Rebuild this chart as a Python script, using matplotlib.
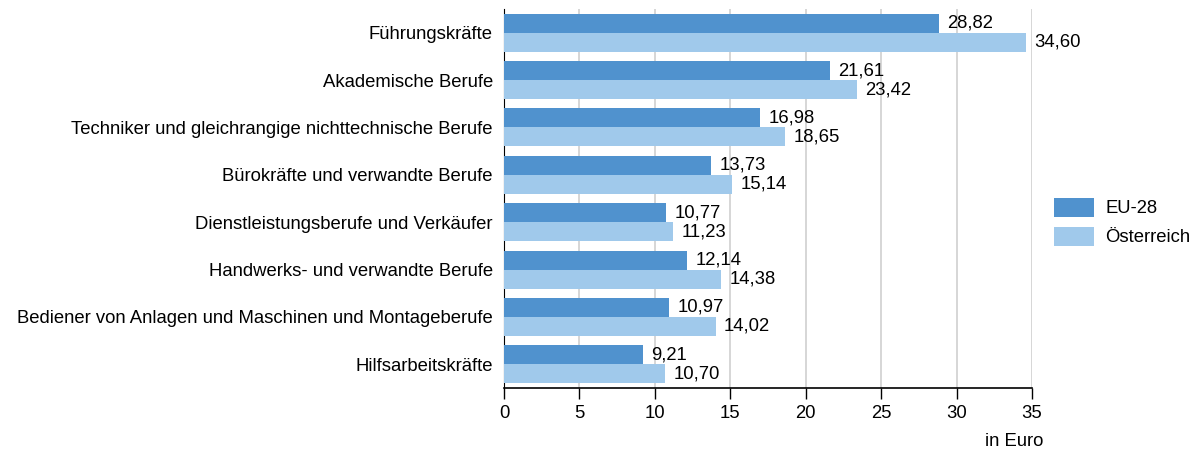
import matplotlib
matplotlib.use("Agg")
import matplotlib.pyplot as plt
import numpy as np

categories = [
    "Führungskräfte",
    "Akademische Berufe",
    "Techniker und gleichrangige nichttechnische Berufe",
    "Bürokräfte und verwandte Berufe",
    "Dienstleistungsberufe und Verkäufer",
    "Handwerks- und verwandte Berufe",
    "Bediener von Anlagen und Maschinen und Montageberufe",
    "Hilfsarbeitskräfte",
]
eu28 = [28.82, 21.61, 16.98, 13.73, 10.77, 12.14, 10.97, 9.21]
austria = [34.60, 23.42, 18.65, 15.14, 11.23, 14.38, 14.02, 10.70]
series_names = ["EU-28", "Österreich"]
xticks = [0, 5, 10, 15, 20, 25, 30, 35]

FS = 13.3
plt.rcParams['font.family'] = ['Liberation Sans', 'DejaVu Sans']
plt.rcParams['font.size'] = FS

fig = plt.figure(figsize=(11.98, 4.5), dpi=100)
ax = fig.add_axes([504/1198, 1-388/450, 528/1198, (388-9)/450])

c1 = "#5092CE"
c2 = "#A0C9EB"
n = len(categories)
y = np.arange(n)
h = 0.4
b1 = ax.barh(y - h/2, eu28, height=h, color=c1, label=series_names[0], zorder=3)
b2 = ax.barh(y + h/2, austria, height=h, color=c2, label=series_names[1], zorder=3)

def fmt(v):
    return f"{v:.2f}".replace(".", ",")

for yi, v in zip(y, eu28):
    ax.text(v + 0.55, yi - h/2, fmt(v), va="center", ha="left", fontsize=FS, zorder=4)
for yi, v in zip(y, austria):
    ax.text(v + 0.55, yi + h/2, fmt(v), va="center", ha="left", fontsize=FS, zorder=4)

ax.set_ylim(n - 0.5, -0.5)
ax.set_xlim(0, 35)
ax.set_yticks(y)
ax.set_yticklabels(categories)
ax.tick_params(axis="y", length=0, pad=8)
ax.set_xticks(xticks)
ax.set_xticklabels([str(t) for t in xticks])
ax.tick_params(axis="x", length=8, width=1, pad=4, color="black")
ax.grid(axis="x", color="#d0d0d0", linewidth=1.2, zorder=0)
ax.set_axisbelow(True)
for s in ["top", "right"]:
    ax.spines[s].set_visible(False)
ax.spines["left"].set_color("black")
ax.spines["bottom"].set_color("black")
ax.spines["bottom"].set_linewidth(1.2)

fig.text(1043/1198, 1-441/450, "in Euro", ha="right", va="center", fontsize=FS)

leg = ax.legend(handles=[b1, b2], loc="center left", bbox_to_anchor=(1037/1198, 1-222/450),
                bbox_transform=fig.transFigure, frameon=False, handlelength=2.2,
                handleheight=1.2, handletextpad=0.6, labelspacing=0.5, fontsize=FS)

fig.savefig("out.png", dpi=100)
